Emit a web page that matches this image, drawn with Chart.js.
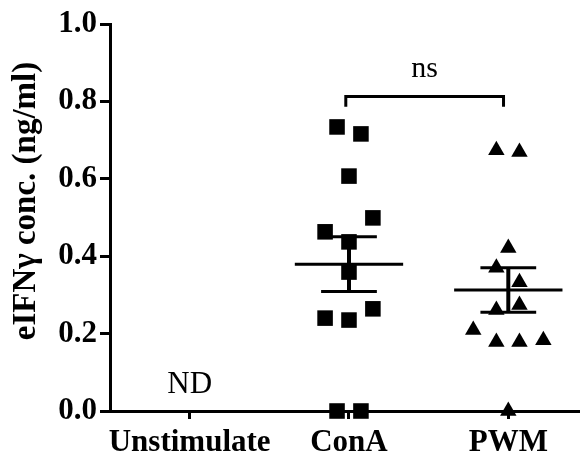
<!DOCTYPE html>
<html>
<head>
<meta charset="utf-8">
<script src="https://cdn.jsdelivr.net/npm/chart.js@4"></script>
<style>
  html, body { margin: 0; padding: 0; background: #fff; overflow: hidden; }
  #wrap { width: 580px; height: 466px; }
  canvas { display: block; }
</style>
</head>
<body>
<div id="wrap"><canvas id="ifnChart"></canvas></div>
<script>
const groups = ['Unstimulate', 'ConA', 'PWM'];
const yTicks = [0.0, 0.2, 0.4, 0.6, 0.8, 1.0];
const yTitle = 'eIFNγ conc. (ng/ml)';

// ConA values (squares) and their horizontal spread
const conaValues = [0.734, 0.716, 0.607, 0.499, 0.463, 0.437, 0.359, 0.264, 0.240, 0.235, 0, 0];
const conaJitter = [-0.075, 0.075, 0, 0.15, -0.15, 0, 0, 0.15, -0.15, 0, -0.075, 0.075];

// PWM values (triangles)
const pwmValues = [0.674, 0.669, 0.421, 0.370, 0.333, 0.274, 0.261, 0.209, 0.178, 0.178, 0.183, 0];
const pwmJitter = [-0.075, 0.07, 0, -0.075, 0.07, 0.07, -0.075, -0.22, -0.075, 0.07, 0.22, 0];

const bracket = { from: 0.98, to: 1.97, top: 0.8125, foot: 0.786, label: 'ns' };
const notDetected = 'ND';

function mean(arr) {
    return arr.reduce((a, b) => a + b, 0) / arr.length;
}
function sem(arr) {
    const m = mean(arr);
    const v = arr.reduce((a, b) => a + (b - m) * (b - m), 0) / (arr.length - 1);
    return Math.sqrt(v / arr.length);
}

function pointsFor(values, jitter, center) {
    return values.map((v, i) => ({ x: center + jitter[i], y: v }));
}

function lineSet(points, width) {
    return {
        type: 'line',
        data: points,
        borderColor: '#000',
        borderWidth: width,
        pointRadius: 0,
        fill: false,
        showLine: true,
        clip: false
    };
}

// mean line + SEM bars for one group
function statSets(values, center) {
    const m = mean(values);
    const s = sem(values);
    return [
        lineSet([{ x: center - 0.34, y: m }, { x: center + 0.34, y: m }], 3),
        lineSet([{ x: center, y: m - s }, { x: center, y: m + s }], 4),
        lineSet([{ x: center - 0.175, y: m + s }, { x: center + 0.175, y: m + s }], 3),
        lineSet([{ x: center - 0.175, y: m - s }, { x: center + 0.175, y: m - s }], 3)
    ];
}

const serif = '"Liberation Serif", "Times New Roman", serif';

const textPlugin = {
    id: 'annotText',
    afterDatasetsDraw(chart) {
        const ctx = chart.ctx;
        const xs = chart.scales.x;
        const ys = chart.scales.y;
        ctx.save();
        ctx.fillStyle = '#000';
        ctx.textAlign = 'center';
        ctx.textBaseline = 'middle';
        ctx.font = '30px ' + serif;
        ctx.fillText(bracket.label, xs.getPixelForValue((bracket.from + bracket.to) / 2), ys.getPixelForValue(0.884));
        ctx.font = '31px ' + serif;
        ctx.fillText(notDetected, xs.getPixelForValue(0), ys.getPixelForValue(0.067));
        // y axis title
        ctx.translate(26, 201);
        ctx.rotate(-Math.PI / 2);
        ctx.font = 'bold 33px ' + serif;
        ctx.fillText(yTitle, 0, 0);
        ctx.restore();
    }
};

const ctx = document.getElementById('ifnChart').getContext('2d');

new Chart(ctx, {
    type: 'scatter',
    data: {
        datasets: [
            {
                data: pointsFor(conaValues, conaJitter, 1),
                pointStyle: 'rect',
                pointRadius: 11,
                backgroundColor: '#000',
                borderColor: '#000',
                borderWidth: 0,
                clip: false
            },
            {
                data: pointsFor(pwmValues, pwmJitter, 2),
                pointStyle: 'triangle',
                pointRadius: 9.5,
                backgroundColor: '#000',
                borderColor: '#000',
                borderWidth: 0,
                clip: false
            },
            ...statSets(conaValues, 1),
            ...statSets(pwmValues, 2),
            lineSet([
                { x: bracket.from, y: bracket.foot },
                { x: bracket.from, y: bracket.top },
                { x: bracket.to, y: bracket.top },
                { x: bracket.to, y: bracket.foot }
            ], 3)
        ]
    },
    options: {
        responsive: true,
        maintainAspectRatio: false,
        animation: false,
        // the x axis runs right to the edge of the picture
        layout: { autoPadding: false, padding: { top: 24, right: 0, left: 0, bottom: 0 } },
        plugins: {
            legend: { display: false },
            tooltip: { enabled: false }
        },
        scales: {
            x: {
                type: 'linear',
                min: -0.5,
                max: 2.45,
                afterBuildTicks: (scale) => {
                    scale.ticks = groups.map((g, i) => ({ value: i }));
                },
                afterFit: (scale) => {
                    scale.height = 55;
                },
                ticks: {
                    color: '#000',
                    font: { family: serif, size: 31, weight: 'bold' },
                    padding: 5,
                    maxRotation: 0,
                    autoSkip: false,
                    callback: (v) => groups[v]
                },
                grid: {
                    drawOnChartArea: false,
                    drawTicks: true,
                    tickLength: 8,
                    tickWidth: 3,
                    color: '#000'
                },
                border: { color: '#000', width: 3 }
            },
            y: {
                min: 0,
                max: 1,
                afterBuildTicks: (scale) => {
                    scale.ticks = yTicks.map(v => ({ value: v }));
                },
                afterFit: (scale) => { scale.width = 110; },
                ticks: {
                    color: '#000',
                    font: { family: serif, size: 31, weight: 'bold' },
                    padding: 3,
                    callback: (v) => v.toFixed(1)
                },
                grid: {
                    drawOnChartArea: false,
                    drawTicks: true,
                    tickLength: 10,
                    tickWidth: 3,
                    color: '#000'
                },
                border: { color: '#000', width: 3 }
            }
        }
    },
    plugins: [textPlugin]
});
</script>
</body>
</html>
